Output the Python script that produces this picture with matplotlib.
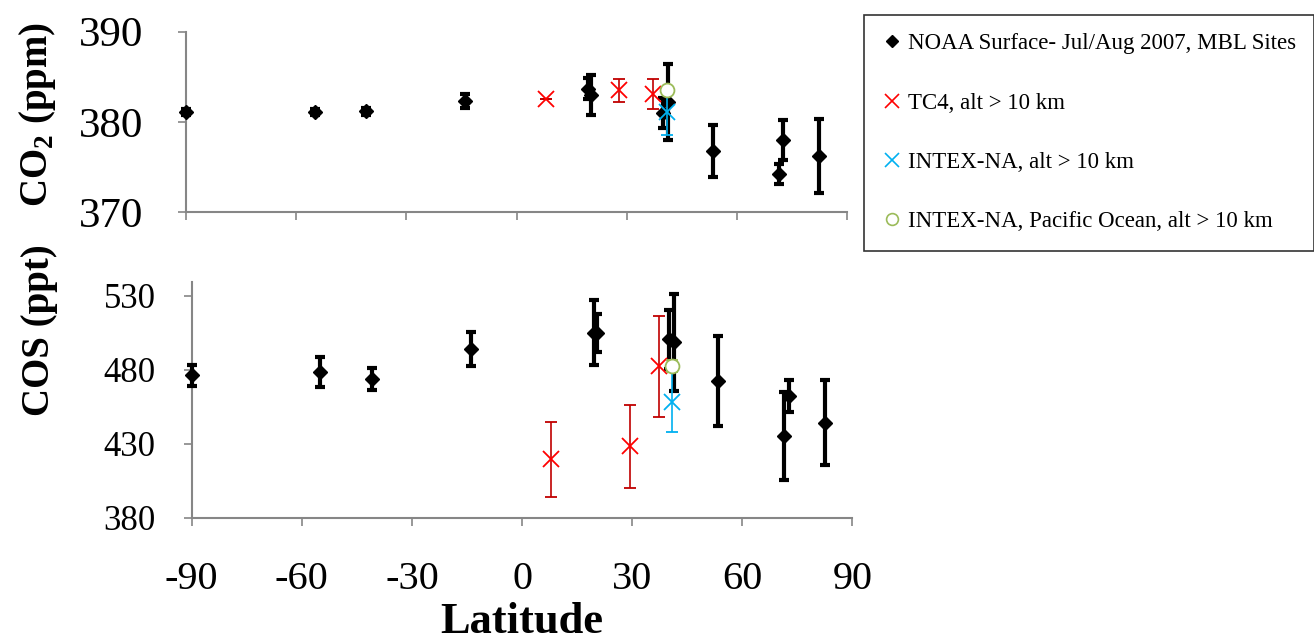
import matplotlib
matplotlib.use("Agg")
import matplotlib.pyplot as plt
from matplotlib.lines import Line2D

plt.rcParams['font.family'] = ['Liberation Serif', 'DejaVu Serif']
plt.rcParams['mathtext.fontset'] = 'custom'
plt.rcParams['mathtext.rm'] = 'Liberation Serif'
plt.rcParams['mathtext.bf'] = 'Liberation Serif:bold'
plt.rcParams['axes.unicode_minus'] = False

# NOAA surface sites (MBL), Jul/Aug 2007
noaa_lat = [-90, -55, -41, -14, 19.5, 20.3, 40.0, 41.3, 53.5, 71.4, 72.7, 82.5]
noaa_co2 = [381.1, 381.1, 381.2, 382.3, 383.7, 383.0, 381.0, 382.2, 376.8, 374.2, 378.0, 376.2]
noaa_co2_err = [0.3, 0.3, 0.4, 0.8, 1.2, 2.2, 1.7, 4.2, 2.9, 1.1, 2.2, 4.1]
noaa_cos = [476.4, 478.6, 473.7, 493.8, 505.0, 505.0, 500.5, 498.5, 472.4, 435.2, 462.2, 444.2]
noaa_cos_err = [7.1, 10.2, 7.6, 11.5, 22.0, 13.0, 20.0, 33.0, 30.4, 30.0, 10.7, 28.8]

# TC4 aircraft, alt > 10 km
tc4_lat_co2 = [8.0, 28.0, 37.2]
tc4_co2 = [382.6, 383.5, 383.1]
tc4_co2_err = [0.0, 1.3, 1.7]
tc4_lat_cos = [8.0, 29.3, 37.2]
tc4_cos = [419.5, 428.3, 482.2]
tc4_cos_err = [25.3, 28.1, 34.2]

# INTEX-NA, alt > 10 km
intex_lat = [40.9]
intex_co2 = [381.1]
intex_co2_err = [2.5]
intex_cos = [458.4]
intex_cos_err = [20.3]

# INTEX-NA Pacific Ocean, alt > 10 km
pac_lat = [40.9]
pac_co2 = [383.5]
pac_co2_err = [0.3]
pac_cos = [482.5]
pac_cos_err = [4.0]

W, H = 1314, 642
fig = plt.figure(figsize=(W / 100, H / 100), dpi=100)

ax1 = fig.add_axes([186 / W, 1 - 212.3 / H, (847 - 186) / W, (212.3 - 31.7) / H])
ax2 = fig.add_axes([191.7 / W, 1 - 517.7 / H, (852.3 - 191.7) / W, (517.7 - 282) / H])

red = '#FF0000'
red_err = '#C00000'
blue = '#00B0F0'
green = '#9BBB59'


def draw(ax, y_noaa, e_noaa, lat_tc4, y_tc4, e_tc4, y_int, e_int, y_pac, e_pac):
    ax.errorbar(noaa_lat, y_noaa, yerr=e_noaa, fmt='D', color='black', ms=7.5,
                elinewidth=3, capsize=3.5, capthick=3, clip_on=False, zorder=3)
    ax.errorbar(lat_tc4, y_tc4, yerr=e_tc4, fmt='x', color=red, ecolor=red_err, ms=11,
                mew=1.3, elinewidth=1.2, capsize=4, capthick=1.2, zorder=4)
    ax.errorbar(intex_lat, y_int, yerr=e_int, fmt='x', color=blue, ecolor=blue, ms=11,
                mew=1.3, elinewidth=1.2, capsize=4, capthick=1.2, zorder=4)
    ax.errorbar(pac_lat, y_pac, yerr=e_pac, fmt='o', color=green, mfc='white', ms=10,
                mew=1.3, elinewidth=1.2, capsize=4, capthick=1.2, zorder=5)
    ax.set_xlim(-90, 90)
    ax.set_xticks([-90, -60, -30, 0, 30, 60, 90])
    for s in ['top', 'right']:
        ax.spines[s].set_visible(False)
    for s in ['left', 'bottom']:
        ax.spines[s].set_color('#868686')
        ax.spines[s].set_linewidth(1.5)
    ax.tick_params(direction='out', length=6, width=1.2, color='#868686')


draw(ax1, noaa_co2, noaa_co2_err, tc4_lat_co2, tc4_co2, tc4_co2_err,
     intex_co2, intex_co2_err, pac_co2, pac_co2_err)
ax1.set_ylim(370, 390)
ax1.set_yticks([370, 380, 390])
ax1.tick_params(axis='y', labelsize=31, pad=25)
ax1.tick_params(axis='x', labelbottom=False)

draw(ax2, noaa_cos, noaa_cos_err, tc4_lat_cos, tc4_cos, tc4_cos_err,
     intex_cos, intex_cos_err, pac_cos, pac_cos_err)
ax2.set_ylim(380, 539.3)
ax2.set_yticks([380, 430, 480, 530])
ax2.tick_params(axis='y', labelsize=25, pad=20)
ax2.tick_params(axis='x', labelsize=29, pad=25)

fig.text(522 / W, 1 - 622 / H, 'Latitude', ha='center', va='center',
         fontsize=32, fontweight='bold')
fig.text(38 / W, 1 - 115 / H, r'CO$_\mathbf{2}$ (ppm)', rotation=90, ha='center',
         va='center', fontsize=28, fontweight='bold')
fig.text(40 / W, 1 - 330 / H, 'COS (ppt)', rotation=90, ha='center',
         va='center', fontsize=28, fontweight='bold')

handles = [
    Line2D([], [], ls='none', marker='D', color='black', ms=6),
    Line2D([], [], ls='none', marker='x', color=red, ms=10, mew=1.2),
    Line2D([], [], ls='none', marker='x', color=blue, ms=10, mew=1.2),
    Line2D([], [], ls='none', marker='o', color=green, mfc='white', ms=8.5, mew=1.2),
]
labels = ['NOAA Surface- Jul/Aug 2007, MBL Sites', 'TC4, alt > 10 km',
          'INTEX-NA, alt > 10 km', 'INTEX-NA, Pacific Ocean, alt > 10 km']
leg = fig.legend(handles, labels, loc='upper left', bbox_to_anchor=(864 / W, 1 - 15 / H),
                 fontsize=16.5, frameon=True, fancybox=False, handlelength=0.8,
                 handletextpad=0.3, labelspacing=1.67, borderpad=0.8, borderaxespad=0)
leg.get_frame().set_edgecolor('black')
leg.get_frame().set_linewidth(1.2)

fig.savefig('out.png', dpi=100)
